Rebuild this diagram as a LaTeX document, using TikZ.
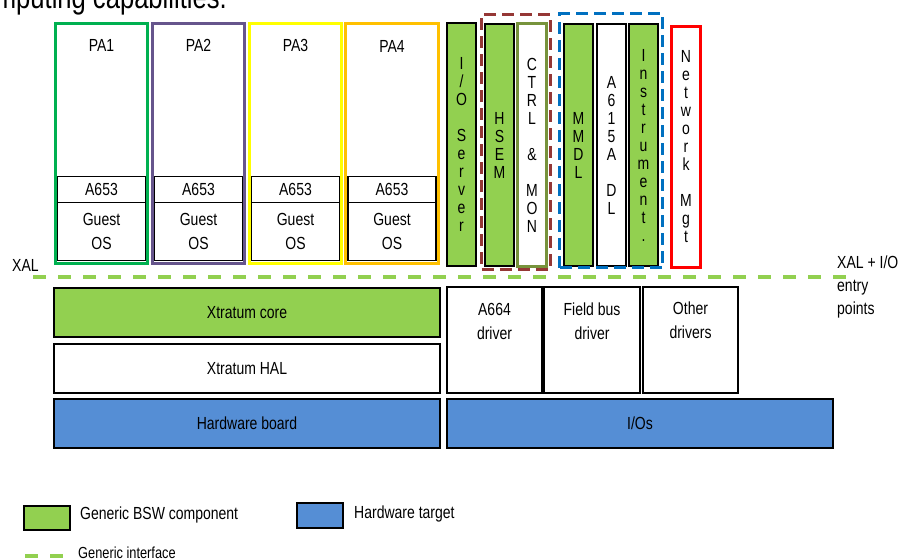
\documentclass[tikz,border=0pt]{standalone}
\usepackage{fontspec}
\setmainfont{Liberation Sans}[FakeStretch=0.8]
\usepackage{tikz}
\usetikzlibrary{positioning, fit}

\definecolor{bswgreen}{HTML}{92D050}
\definecolor{hwblue}{HTML}{558ED5}
\definecolor{pagreen}{HTML}{00B050}
\definecolor{papurple}{HTML}{66558C}
\definecolor{payellow}{HTML}{FFFF00}
\definecolor{paorange}{HTML}{FFC000}
\definecolor{ctrlolive}{HTML}{77933C}
\definecolor{grpbrown}{HTML}{953735}
\definecolor{grpblue}{HTML}{0070C0}
\definecolor{netred}{HTML}{FF0000}

\begin{document}
\begin{tikzpicture}[
  x=1pt, y=-1pt,
  box/.style={draw, line width=1.5pt, inner sep=0pt, outer sep=0pt, anchor=north west,
              align=center, font=\fontsize{17.5}{24}\selectfont},
  pabox/.style={box, line width=3.4pt, fill=white, minimum height=240pt},
  osbox/.style={box, anchor=south, minimum width=88pt, fill=white},
  col/.style={box, minimum width=29pt, font=\fontsize{17.5}{18}\selectfont},
  bsw/.style={fill=bswgreen},
  hw/.style={fill=hwblue},
  group/.style={draw, line width=3pt, dash pattern=on 12pt off 6pt, inner sep=0pt},
  iface/.style={draw=bswgreen, line width=3.5pt, dash pattern=on 13pt off 12pt},
  lbl/.style={inner sep=0pt, align=center, font=\fontsize{17.5}{24}\selectfont},
  lgtxt/.style={inner sep=0pt, anchor=west, font=\fontsize{17.5}{20}\selectfont}
]
  \useasboundingbox (0,0) rectangle (898,559);
  \clip (0,0) rectangle (898,559);

  %% Heading (cut by the page edge)
  \node[anchor=base east, inner sep=0pt, font=\fontsize{32}{32}\selectfont] (heading) at (227,9) {computing capabilities.};

  %% Partitions
  \node[pabox, draw=pagreen, minimum width=92pt] (pa1) at (55.5,23.5) {};
  \node[pabox, draw=papurple, minimum width=92pt] (pa2) at (152.5,23.5) {};
  \node[pabox, draw=payellow, minimum width=92pt] (pa3) at (249.5,23.5) {};
  \node[pabox, draw=paorange, minimum width=93pt] (pa4) at (345.5,23.5) {};

  \node[lbl, at=(pa1.north), yshift=-22pt] (pa1lbl) {PA1};
  \node[lbl, at=(pa2.north), yshift=-22pt] (pa2lbl) {PA2};
  \node[lbl, at=(pa3.north), yshift=-22pt] (pa3lbl) {PA3};
  \node[lbl, at=(pa4.north), yshift=-23pt] (pa4lbl) {PA4};

  \node[osbox, minimum height=58pt, at=(pa1.south), yshift=3pt] (os1) {Guest\\OS};
  \node[osbox, minimum height=58pt, at=(pa2.south), yshift=3pt] (os2) {Guest\\OS};
  \node[osbox, minimum height=58pt, at=(pa3.south), yshift=3pt] (os3) {Guest\\OS};
  \node[osbox, minimum height=58pt, at=(pa4.south), yshift=3pt] (os4) {Guest\\OS};

  \node[osbox, minimum height=26pt, at=(os1.north)] (apex1) {A653};
  \node[osbox, minimum height=26pt, at=(os2.north)] (apex2) {A653};
  \node[osbox, minimum height=26pt, at=(os3.north)] (apex3) {A653};
  \node[osbox, minimum height=26pt, at=(os4.north)] (apex4) {A653};

  %% System partitions
  \node[col, bsw, minimum height=243pt] (ioserver) at (447,23) {I\\/\\O\\[18pt]S\\e\\r\\v\\e\\r};
  \node[col, bsw, minimum height=242pt] (hsem) at (485,24) {H\\S\\E\\M};
  \node[col, fill=white, draw=ctrlolive, line width=3pt, minimum height=243pt] (ctrl) at (517.5,23.5)
       {C\\T\\R\\L\\[18pt]\&\\[18pt]M\\O\\N};
  \node[col, bsw, minimum height=242pt] (mmdl) at (564,24) {M\\M\\D\\L};
  \node[col, fill=white, minimum height=242pt] (dataload) at (597,24) {A\\6\\1\\5\\A\\[18pt]D\\L};
  \node[col, bsw, minimum height=242pt] (instr) at (629,24) {I\\n\\s\\t\\r\\u\\m\\e\\n\\t\\.};
  \node[col, fill=white, draw=netred, line width=3pt, minimum height=241pt] (netmgt) at (671.5,26.5)
       {N\\e\\t\\w\\o\\r\\k\\[18pt]M\\g\\t};

  %% Groups
  \node[group, draw=grpbrown, fit=(hsem)(ctrl), inner xsep=3.5pt, inner ysep=6pt, yshift=3pt] (ctrlgrp) {};
  \node[group, draw=grpblue, fit=(mmdl)(instr), inner xsep=4.5pt, inner ysep=6pt, yshift=4pt] (loadgrp) {};

  %% XAL interface
  \coordinate (xalw) at (33,277);
  \coordinate (xale) at (853,277);
  \draw[iface] (xalw) -- (xale);
  \node[lbl, anchor=west] (xal) at (12,265) {XAL};
  \node[lbl, anchor=north west, align=left, font=\fontsize{17.5}{23}\selectfont] (xalio) at (837,256)
       {XAL + I/O\\entry\\points};

  %% Hypervisor and drivers
  \node[box, bsw, minimum width=386pt, minimum height=49pt] (core) at (54,288) {Xtratum core};
  \node[box, fill=white, minimum width=386pt, minimum height=49pt] (hal) at (54,344) {Xtratum HAL};
  \node[box, hw, minimum width=386pt, minimum height=49pt] (board) at (54,399) {Hardware board};

  \node[box, fill=white, minimum width=95pt, minimum height=106pt] (a664) at (447,287) {};
  \node[box, fill=white, minimum width=96pt, minimum height=106pt] (fieldbus) at (544,287) {};
  \node[box, fill=white, minimum width=95pt, minimum height=106pt] (other) at (643,287) {};
  \node[lbl, at=(a664.north), yshift=-34pt] (a664txt) {A664\\driver};
  \node[lbl, at=(fieldbus.north), yshift=-34pt] (fieldbustxt) {Field bus\\driver};
  \node[lbl, at=(other.north), yshift=-33pt] (othertxt) {Other\\drivers};

  \node[box, hw, minimum width=386pt, minimum height=49pt] (ios) at (447,399) {I/Os};

  %% Legend
  \node[box, bsw, line width=1.8pt, minimum width=46pt, minimum height=24pt] (lgbsw) at (24,506) {};
  \node[lgtxt, right=10pt of lgbsw, yshift=3pt] (lgbswtxt) {Generic BSW component};
  \node[box, hw, line width=1.8pt, minimum width=46pt, minimum height=25pt] (lghw) at (297,503) {};
  \node[lgtxt, right=11pt of lghw, yshift=2pt] (lghwtxt) {Hardware target};
  \coordinate (lgifw) at (25,556);
  \coordinate (lgife) at (63,556);
  \draw[iface] (lgifw) -- (lgife);
  \node[lgtxt, font=\fontsize{16}{18}\selectfont] (lgiftxt) at (78,553) {Generic interface};
\end{tikzpicture}
\end{document}
